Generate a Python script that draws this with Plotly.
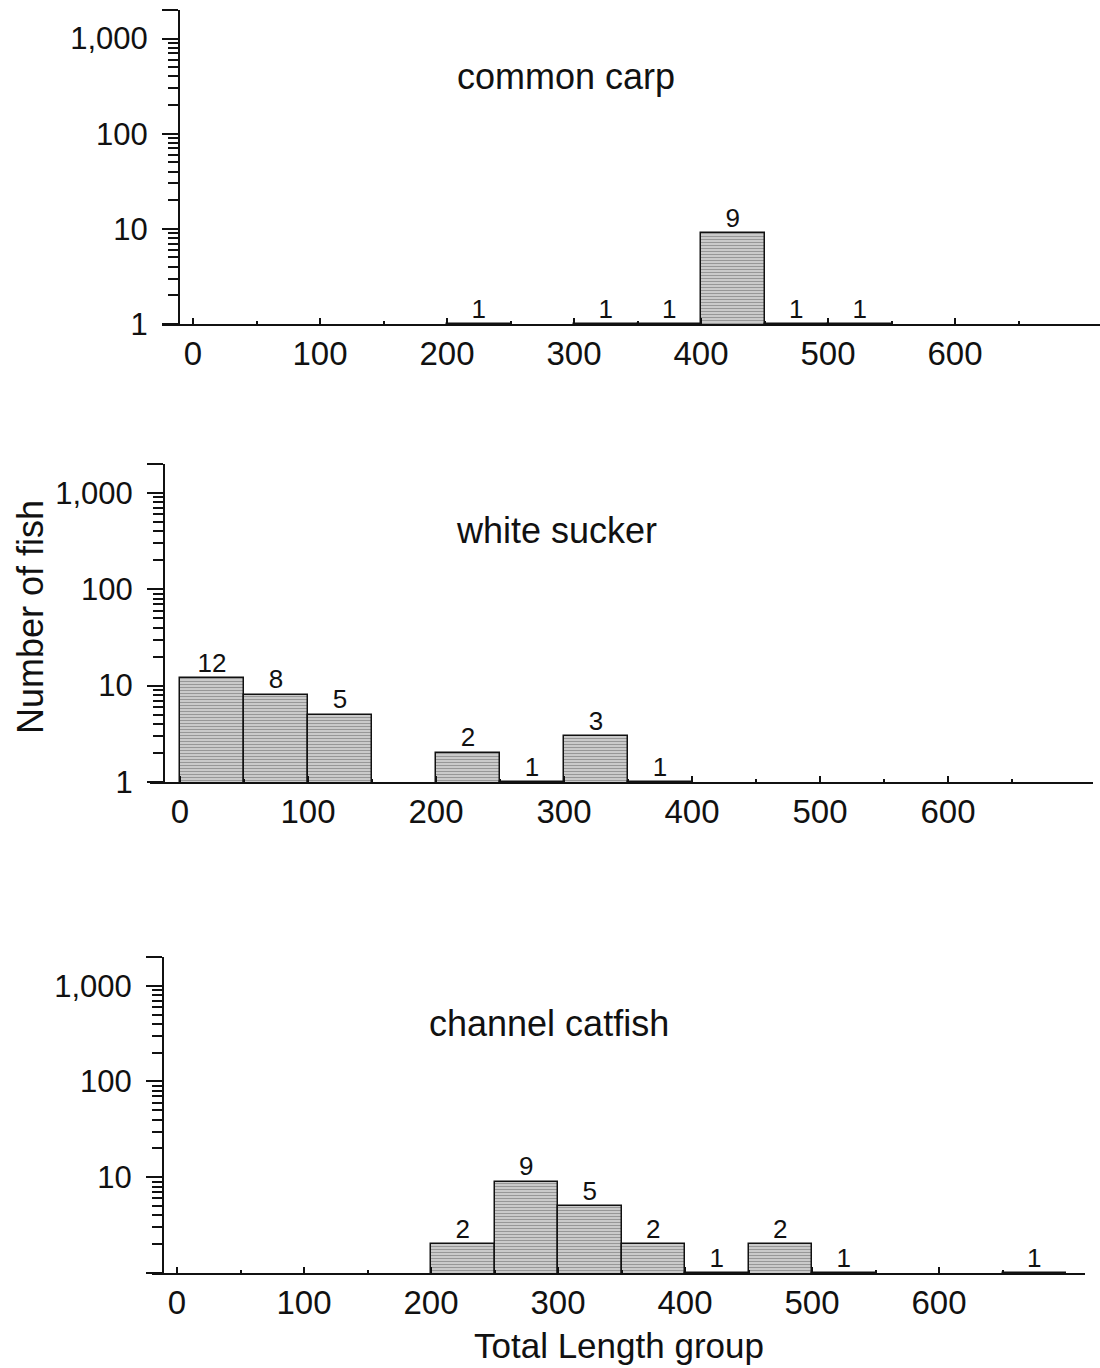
import plotly.graph_objects as go
import math

# ---- data ----
bin_centers = [25, 75, 125, 175, 225, 275, 325, 375, 425, 475, 525, 575, 625, 675]
common_carp = [0, 0, 0, 0, 1, 0, 1, 1, 9, 1, 1, 0, 0, 0]
white_sucker = [12, 8, 5, 0, 2, 1, 3, 1, 0, 0, 0, 0, 0, 0]
channel_catfish = [0, 0, 0, 0, 2, 9, 5, 2, 1, 2, 1, 0, 0, 1]
species = ["common carp", "white sucker", "channel catfish"]
x_tick_vals = [0, 100, 200, 300, 400, 500, 600]
x_minor_vals = [50, 150, 250, 350, 450, 550, 650]
y_tick_vals = [1, 10, 100, 1000]
y_tick_text_std = ["1", "10", "100", "1,000"]
y_tick_text_last = ["", "10", "100", "1,000"]
x_title = "Total Length group"
y_title = "Number of fish"

W, H = 1100, 1368
HS = 1350  # effective rendered paper height used for placement
FONT = "Liberation Sans, Arial, Helvetica, sans-serif"
YTOP = 3.3

panels = [
    dict(xl=162, xr=1100, x0=193, s=1.27, ya=179, top=10, bot=324, title_xy=(566, 77)),
    dict(xl=150, xr=1093, x0=180, s=1.28, ya=164, top=464, bot=782, title_xy=(556, 530)),
    dict(xl=152, xr=1085, x0=177, s=1.27, ya=163, top=957, bot=1273, title_xy=(549, 1023)),
]
counts = [common_carp, white_sucker, channel_catfish]

fig = go.Figure()
minor_y = [m * 10 ** k for k in range(0, 3) for m in range(2, 10)]
top_val = 10 ** YTOP

annotations = []
for i, (p, c, name) in enumerate(zip(panels, counts, species)):
    n = i + 1
    xa = "x" if n == 1 else f"x{n}"
    ya = "y" if n == 1 else f"y{n}"
    yvals = [v if v > 0 else None for v in c]
    fig.add_trace(go.Bar(
        x=bin_centers, y=yvals, width=50, xaxis=xa, yaxis=ya,
        marker=dict(color="#c4c4c4", line=dict(color="#111", width=1.5),
                    pattern=dict(shape="-", size=3, solidity=0.4,
                                 fgcolor="#5e5e5e", bgcolor="#d0d0d0")),
        showlegend=False, hoverinfo="skip",
    ))
    tx = [b for b, v in zip(bin_centers, c) if v > 0]
    ty = [v for v in c if v > 0]
    fig.add_trace(go.Scatter(
        x=tx, y=ty, text=[str(v) for v in ty], mode="text",
        textposition="top center", textfont=dict(size=26, color="#111", family=FONT),
        xaxis=xa, yaxis=ya, showlegend=False, hoverinfo="skip", cliponaxis=False,
    ))
    xmin = (p["xl"] - p["x0"]) / p["s"]
    xmax = (p["xr"] - p["x0"]) / p["s"]
    xkey = "xaxis" if n == 1 else f"xaxis{n}"
    ykey = "yaxis" if n == 1 else f"yaxis{n}"
    fig.layout[xkey] = dict(
        domain=[p["xl"] / W, p["xr"] / W], range=[xmin, xmax], anchor=ya,
        showline=True, linecolor="#111", linewidth=1.5, showgrid=False, zeroline=False,
        tickvals=x_tick_vals, ticks="inside", ticklen=6, tickwidth=1.5, tickcolor="#111",
        minor=dict(tickvals=x_minor_vals, ticks="inside", ticklen=3, tickwidth=1.5,
                   tickcolor="#111", showgrid=False),
        tickfont=dict(size=33, color="#111", family=FONT),
        fixedrange=True,
    )
    ticktext = y_tick_text_last if n == 3 else y_tick_text_std
    fig.layout[ykey] = dict(
        type="log", domain=[1 - p["bot"] / HS, 1 - p["top"] / HS], range=[0, YTOP],
        anchor="free", position=p["ya"] / W,
        showline=True, linecolor="#111", linewidth=2, showgrid=False, zeroline=False,
        tickvals=y_tick_vals + [top_val], ticktext=ticktext + [""],
        ticks="outside", ticklen=16, tickwidth=1.5, tickcolor="#111",
        minor=dict(tickvals=minor_y, ticks="outside", ticklen=10, tickwidth=1.5,
                   tickcolor="#111", showgrid=False),
        tickfont=dict(size=31, color="#111", family=FONT),
        ticklabelstandoff=8,
        fixedrange=True,
    )
    annotations.append(dict(
        text=name, x=p["title_xy"][0] / W, y=1 - p["title_xy"][1] / HS,
        xref="paper", yref="paper", showarrow=False, xanchor="center", yanchor="middle",
        font=dict(size=36, color="#111", family=FONT),
    ))

annotations.append(dict(
    text=y_title, x=30 / W, y=1 - 617 / HS, xref="paper", yref="paper",
    showarrow=False, textangle=-90, xanchor="center", yanchor="middle",
    font=dict(size=36, color="#111", family=FONT),
))
annotations.append(dict(
    text=x_title, x=619 / W, y=1 - 1345 / HS, xref="paper", yref="paper",
    showarrow=False, xanchor="center", yanchor="middle", borderpad=0,
    font=dict(size=35, color="#111", family=FONT),
))

fig.update_layout(
    width=W, height=H, margin=dict(l=0, r=0, t=0, b=0),
    paper_bgcolor="white", plot_bgcolor="white",
    annotations=annotations, bargap=0, barmode="overlay",
    font=dict(family=FONT, color="#111"),
)

fig.write_html("out.html")
